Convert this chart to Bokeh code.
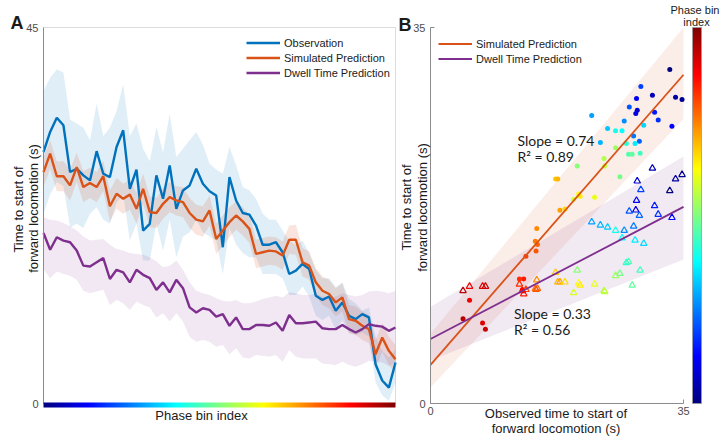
import numpy as np
from bokeh.plotting import figure
from bokeh.models import (Range1d, FixedTicker, LinearColorMapper, ColorBar,
                          Label, ColumnDataSource, LinearAxis, BoxAnnotation)
from bokeh.layouts import row
from bokeh.embed import file_html
from bokeh.resources import INLINE

# ---------------- Panel A data (phase bins) ----------------
phase_bins = list(range(1, 55))
obs_mean = [30.1, 32.5, 34.2, 33.3, 27.7, 28.1, 27.3, 26.7, 30.2, 27.5,
            27.1, 30.7, 32.7, 25.7, 28.0, 20.7, 21.5, 27.3, 24.5, 28.5,
            23.3, 25.5, 26.1, 28.1, 26.3, 25.4, 24.9, 18.7, 27.1, 24.3,
            22.8, 22.6, 21.3, 19.0, 19.0, 19.3, 18.1, 15.5, 15.9, 16.7,
            16.1, 12.9, 12.4, 12.8, 11.1, 12.1, 10.5, 10.1, 10.7, 10.3,
            4.7, 2.75, 1.9, 4.9]
obs_hi = [37.4, 39.0, 40.0, 39.6, 34.0, 33.5, 33.0, 31.5, 35.9, 32.0,
          33.0, 35.0, 38.2, 32.0, 33.5, 30.5, 29.0, 33.1, 30.0, 34.7,
          29.5, 30.5, 31.5, 32.5, 31.0, 28.7, 28.0, 27.5, 30.7, 28.5,
          25.9, 25.5, 24.5, 22.7, 22.0, 22.0, 20.7, 19.5, 19.0, 19.5,
          18.0, 16.0, 15.0, 15.0, 13.9, 14.5, 12.5, 12.0, 11.1, 11.5,
          8.0, 6.3, 5.5, 6.5]
obs_lo = [22.7, 25.0, 26.5, 26.0, 21.1, 21.5, 21.0, 22.7, 23.5, 22.0,
          21.5, 24.0, 25.0, 19.5, 21.5, 17.1, 17.1, 21.5, 18.3, 22.0,
          17.5, 20.0, 20.5, 22.0, 20.5, 20.0, 19.5, 15.5, 21.0, 19.0,
          18.0, 17.5, 17.5, 15.5, 15.5, 15.5, 15.0, 13.0, 13.0, 14.0,
          12.8, 10.5, 10.0, 10.5, 8.8, 10.0, 8.5, 8.2, 8.5, 8.0,
          2.5, 1.0, 0.3, 2.5]
sim_mean = [27.7, 29.9, 27.2, 27.2, 26.1, 28.3, 25.9, 26.4, 25.9, 27.2,
            23.6, 25.1, 24.5, 25.0, 23.3, 25.7, 22.9, 22.8, 23.9, 24.7,
            24.3, 24.1, 22.8, 22.0, 21.8, 23.1, 19.7, 20.7, 21.7, 22.5,
            21.8, 20.9, 17.9, 18.1, 18.3, 18.2, 17.7, 19.6, 19.6, 16.9,
            16.5, 14.5, 13.5, 13.1, 12.1, 12.7, 10.1, 9.9, 9.3, 8.9,
            5.9, 7.9, 6.3, 5.3]
sim_hi = [29.5, 31.5, 29.0, 29.0, 28.0, 30.0, 27.8, 28.2, 27.7, 29.0,
          25.5, 27.0, 26.3, 26.8, 25.2, 27.5, 24.8, 24.6, 25.8, 26.5,
          26.0, 25.9, 24.6, 23.8, 23.6, 24.9, 21.5, 22.5, 23.5, 24.2,
          23.5, 22.6, 19.6, 19.8, 20.0, 19.9, 19.4, 21.3, 21.4, 18.6,
          18.2, 16.2, 15.2, 14.8, 13.8, 14.4, 11.8, 11.6, 11.0, 10.6,
          7.6, 9.6, 8.0, 7.0]
sim_lo = [25.9, 28.1, 25.4, 25.4, 24.3, 26.5, 24.1, 24.6, 24.1, 25.4,
          21.8, 23.3, 22.7, 23.2, 21.5, 23.9, 21.1, 21.0, 22.1, 22.9,
          22.5, 22.3, 21.0, 20.2, 20.0, 21.3, 17.9, 18.9, 19.9, 20.8,
          20.1, 19.2, 16.2, 16.4, 16.6, 16.5, 16.0, 17.9, 17.8, 15.2,
          14.8, 12.8, 11.8, 11.4, 10.4, 11.0, 8.4, 8.2, 7.6, 7.2,
          4.2, 6.2, 4.6, 3.6]
dwell_mean = [20.4, 18.4, 19.9, 19.5, 19.3, 18.3, 16.5, 16.4, 16.9, 17.4,
              14.9, 16.0, 15.7, 14.5, 16.0, 15.4, 15.0, 13.6, 14.5, 13.3,
              14.8, 13.8, 11.5, 10.9, 11.4, 11.2, 10.4, 10.7, 9.3, 10.3,
              8.9, 8.9, 9.4, 9.4, 9.3, 9.7, 8.7, 10.6, 9.6, 9.6,
              9.7, 9.8, 9.0, 8.9, 8.9, 9.4, 8.9, 8.5, 8.9, 9.5,
              9.3, 9.2, 8.7, 9.1]
dwell_hi = [22.3, 22.0, 21.9, 21.6, 21.2, 20.7, 20.0, 19.5, 19.6, 19.7,
            19.0, 18.5, 18.3, 18.0, 17.9, 17.8, 17.5, 17.0, 16.3, 16.5,
            17.1, 16.0, 14.5, 13.5, 13.2, 13.0, 12.6, 12.3, 12.2, 12.4,
            12.0, 12.0, 12.2, 12.5, 12.7, 12.9, 12.7, 13.3, 13.2, 13.0,
            13.0, 13.2, 12.8, 12.7, 12.8, 13.2, 13.0, 12.8, 13.0, 13.4,
            13.5, 13.4, 13.2, 13.5]
dwell_lo = [16.1, 15.0, 15.8, 15.5, 15.3, 14.8, 13.5, 13.2, 13.4, 13.6,
            11.8, 12.4, 12.0, 11.2, 12.2, 11.8, 11.5, 10.3, 10.8, 9.8,
            10.8, 9.8, 8.0, 7.4, 7.6, 7.4, 6.8, 7.0, 5.9, 6.6,
            5.5, 5.4, 5.8, 5.7, 5.6, 5.8, 5.0, 6.4, 5.6, 5.4,
            5.4, 5.4, 4.8, 4.7, 4.6, 5.0, 4.6, 4.4, 4.7, 5.1,
            5.0, 4.9, 4.5, 4.9]
a_yticks = [0, 45]

# ---------------- Panel B data ----------------
b_obs = [34.8, 33.9, 33.1, 33.4, 30.7, 31.0, 31.5, 29.1, 28.6, 28.5,
         28.4, 27.5, 28.9, 28.1, 26.8, 29.5, 28.3, 26.5, 25.6, 24.5,
         23.5, 22.3, 27.1, 27.4, 27.9, 29.0, 26.2, 25.6, 20.3, 24.0,
         24.1, 22.7, 20.5, 20.7, 19.8, 17.3, 17.6, 17.9, 18.6, 14.7,
         14.5, 14.8, 14.6, 13.2, 12.3, 12.9, 12.7, 5.4, 4.5, 7.2, 7.6]
b_sim = [28.3, 28.5, 31.1, 25.8, 28.7, 27.1, 26.4, 29.5, 27.3, 28.4,
         27.0, 27.6, 24.4, 24.9, 26.3, 25.9, 24.2, 25.4, 25.4, 25.6,
         24.3, 26.8, 24.2, 23.2, 23.2, 23.3, 21.1, 23.8, 22.1, 22.8,
         22.1, 19.2, 19.5, 19.3, 19.0, 20.9, 20.9, 18.0, 18.1, 16.3,
         15.1, 14.8, 14.2, 13.7, 11.6, 11.6, 10.6, 9.6, 7.9, 7.5, 6.9]
b_dwell = [21.3, 20.9, 19.8, 17.3, 21.9, 18.4, 17.6, 19.9, 20.7, 18.9,
           18.0, 17.9, 17.5, 16.5, 16.1, 14.9, 15.2, 15.4, 16.1, 16.4,
           16.6, 16.9, 13.1, 13.2, 11.0, 12.4, 12.1, 11.9, 12.4, 10.5,
           10.4, 11.1, 11.2, 11.0, 10.3, 12.2, 11.3, 11.3, 11.3, 11.5,
           10.7, 10.7, 10.6, 10.6, 11.1, 10.2, 10.5, 10.9, 10.5, 10.9, 10.9]
b_phase = [2, 3, 1, 8, 4, 9, 10, 11, 5, 7,
           6, 12, 13, 14, 15, 19, 20, 21, 22, 18,
           17, 16, 23, 25, 26, 24, 27, 29, 28, 30,
           31, 33, 34, 35, 32, 37, 38, 39, 36, 40,
           41, 42, 43, 44, 45, 46, 47, 48, 51, 49, 50]
fit_x = [0, 35]
sim_fit = [3.6, 30.6]
sim_band_lo = [1.5, 26.5]
sim_band_hi = [6.5, 35.0]
dwell_fit = [6.0, 18.3]
dwell_band_lo = [4.0, 13.4]
dwell_band_hi = [9.0, 23.0]
b_ticks = [0, 35]

BLUE, ORANGE, PURPLE = "#0072BD", "#D95319", "#7E2F8E"
FONT = "Liberation Sans"
ANN = "Lato"
AXC = "#8c8c8c"
TICKC = "#4d4d4d"
TXT = "#1a1a1a"

# ---------------- layout geometry (pixels) ----------------
H = 444
W_A, W_B = 398, 330
A_L, A_R, TOP, BOT = 43, 395, 27, 403      # panel A frame box inside its canvas
B_L, B_R = 32, 285                          # panel B axes inside its canvas


def jet(n=256):
    t = np.linspace(0, 1, n)
    r = np.clip(1.5 - np.abs(4 * t - 3), 0, 1)
    g = np.clip(1.5 - np.abs(4 * t - 2), 0, 1)
    b = np.clip(1.5 - np.abs(4 * t - 1), 0, 1)
    return ["#%02x%02x%02x" % (int(round(255 * a)), int(round(255 * c)), int(round(255 * d)))
            for a, c, d in zip(r, g, b)]


mapper = LinearColorMapper(palette=jet(), low=1, high=54)


def span_range(lo, hi, px_lo, px_hi, total, flip=False):
    s = (px_hi - px_lo) / (hi - lo)
    if flip:   # pixel coordinates measured from top
        return Range1d(lo - (total - px_hi) / s, hi + px_lo / s)
    return Range1d(lo - px_lo / s, hi + (total - px_hi) / s)


def lab(p, x, y, text, size="13px", angle=0.0, align="center", baseline="middle",
        font=FONT, style="normal"):
    # x from canvas left, y measured from canvas top
    p.add_layout(Label(x=x, y=H - y, x_units="screen", y_units="screen", text=text,
                       text_font=font, text_font_size=size, text_font_style=style,
                       text_color=TXT, angle=angle, text_align=align,
                       text_baseline=baseline))


def style_legend(lg, x, y_top, n):
    lg.location = (x, H - y_top - 15 * n)
    lg.margin = 0
    lg.padding = 0
    lg.spacing = 0
    lg.glyph_width = 34
    lg.glyph_height = 15
    lg.label_height = 15
    lg.label_standoff = 4
    lg.label_text_font = FONT
    lg.label_text_font_size = "11px"
    lg.label_text_color = TXT
    lg.background_fill_alpha = 0
    lg.border_line_color = None


def make_axis(dim_bounds, ticks, fixed, tick_in, standoff):
    return LinearAxis(fixed_location=fixed, bounds=dim_bounds,
                      ticker=FixedTicker(ticks=ticks), major_tick_in=tick_in,
                      major_tick_out=0, major_tick_line_color=AXC,
                      minor_tick_line_color=None, axis_line_color=AXC,
                      major_label_text_font=FONT, major_label_text_font_size="11px",
                      major_label_text_color=TICKC, major_label_standoff=standoff)


def base_fig(w, xr, yr):
    p = figure(width=w, height=H, min_border=0, x_range=xr, y_range=yr,
               x_axis_location=None, y_axis_location=None, title=None,
               toolbar_location=None, output_backend="svg")
    p.outline_line_color = None
    p.grid.visible = False
    return p


# ---------------- Panel A ----------------
pA = base_fig(W_A,
              span_range(phase_bins[0], phase_bins[-1], A_L, A_R, W_A),
              span_range(a_yticks[0], a_yticks[-1], TOP, BOT, H, flip=True))
pA.add_layout(make_axis((a_yticks[0], a_yticks[-1]), a_yticks, phase_bins[0], 0, 5), "left")
pA.add_layout(BoxAnnotation(left=phase_bins[0], right=phase_bins[-1], bottom=a_yticks[0],
                            top=a_yticks[-1], fill_color=None, fill_alpha=0,
                            line_color=AXC, line_width=1))

pA.varea(x=phase_bins, y1=obs_lo, y2=obs_hi, fill_color=BLUE, fill_alpha=0.12)
pA.varea(x=phase_bins, y1=sim_lo, y2=sim_hi, fill_color=ORANGE, fill_alpha=0.15)
pA.varea(x=phase_bins, y1=dwell_lo, y2=dwell_hi, fill_color=PURPLE, fill_alpha=0.11)
pA.line(phase_bins, obs_mean, line_color=BLUE, line_width=2.4, legend_label="Observation")
pA.line(phase_bins, sim_mean, line_color=ORANGE, line_width=2.4, legend_label="Simulated Prediction")
pA.line(phase_bins, dwell_mean, line_color=PURPLE, line_width=2.4, legend_label="Dwell Time Prediction")
style_legend(pA.legend[0], 246, 35, 3)

pA.add_layout(ColorBar(color_mapper=mapper, orientation="horizontal",
                       location=(A_L, H - 407), width=A_R - A_L, height=5,
                       padding=0, margin=0, ticker=FixedTicker(ticks=[]),
                       major_tick_line_color=None, minor_tick_line_color=None,
                       major_label_text_font_size="0px", label_standoff=0,
                       background_fill_alpha=0, bar_line_color=None))

lab(pA, 10, 22, "A", size="18px", align="left", baseline="alphabetic", style="bold")
lab(pA, 17.5, 209, "Time to start of", angle=np.pi / 2)
lab(pA, 33, 208, "forward locomotion (s)", angle=np.pi / 2)
lab(pA, 201, 415, "Phase bin index")

# ---------------- Panel B ----------------
pB = base_fig(W_B,
              span_range(b_ticks[0], b_ticks[-1], B_L, B_R, W_B),
              span_range(b_ticks[0], b_ticks[-1], TOP, BOT, H, flip=True))
pB.add_layout(make_axis((b_ticks[0], b_ticks[-1]), b_ticks, b_ticks[0], 4, 3), "below")
pB.add_layout(make_axis((b_ticks[0], b_ticks[-1]), b_ticks, b_ticks[0], 4, 5), "left")

pB.varea(x=fit_x, y1=sim_band_lo, y2=sim_band_hi, fill_color=ORANGE, fill_alpha=0.1)
pB.varea(x=fit_x, y1=dwell_band_lo, y2=dwell_band_hi, fill_color=PURPLE, fill_alpha=0.1)

srcB = ColumnDataSource(dict(obs=b_obs, sim=b_sim, dwell=b_dwell, phase=b_phase))
pB.scatter("obs", "sim", source=srcB, marker="circle", size=5,
           fill_color={"field": "phase", "transform": mapper}, line_color=None)
pB.scatter("obs", "dwell", source=srcB, marker="triangle", size=6.5, fill_color=None,
           line_color={"field": "phase", "transform": mapper}, line_width=1.2)

pB.line(fit_x, sim_fit, line_color=ORANGE, line_width=1.8, legend_label="Simulated Prediction")
pB.line(fit_x, dwell_fit, line_color=PURPLE, line_width=1.8, legend_label="Dwell Time Prediction")
style_legend(pB.legend[0], 40, 36, 2)

pB.add_layout(ColorBar(color_mapper=mapper, orientation="vertical",
                       location=(294, H - BOT), width=9, height=BOT - TOP,
                       padding=0, margin=0, ticker=FixedTicker(ticks=[]),
                       major_tick_line_color=None, minor_tick_line_color=None,
                       major_label_text_font_size="0px", label_standoff=0,
                       background_fill_alpha=0, bar_line_color="#9a9a9a",
                       bar_line_width=0.8))

lab(pB, 0, 24, "B", size="18px", align="left", baseline="alphabetic", style="bold")
lab(pB, 8, 207, "Time to start of", angle=np.pi / 2)
lab(pB, 23.5, 207, "forward locomotion (s)", angle=np.pi / 2)
lab(pB, 157.5, 413, "Observed time to start of")
lab(pB, 157.5, 428, "forward locomotion (s)")
lab(pB, 296.5, 9, "Phase bin", size="11px")
lab(pB, 298, 21, "index", size="11px")
lab(pB, 119, 140, "Slope = 0.74", size="14px", align="left", font=ANN)
lab(pB, 119, 156, "R\u00b2 = 0.89", size="14px", align="left", font=ANN)
lab(pB, 115.5, 312.5, "Slope = 0.33", size="14px", align="left", font=ANN)
lab(pB, 115.5, 329, "R\u00b2 = 0.56", size="14px", align="left", font=ANN)

layout = row(pA, pB)
open("out.html", "w").write(file_html(layout, INLINE))
